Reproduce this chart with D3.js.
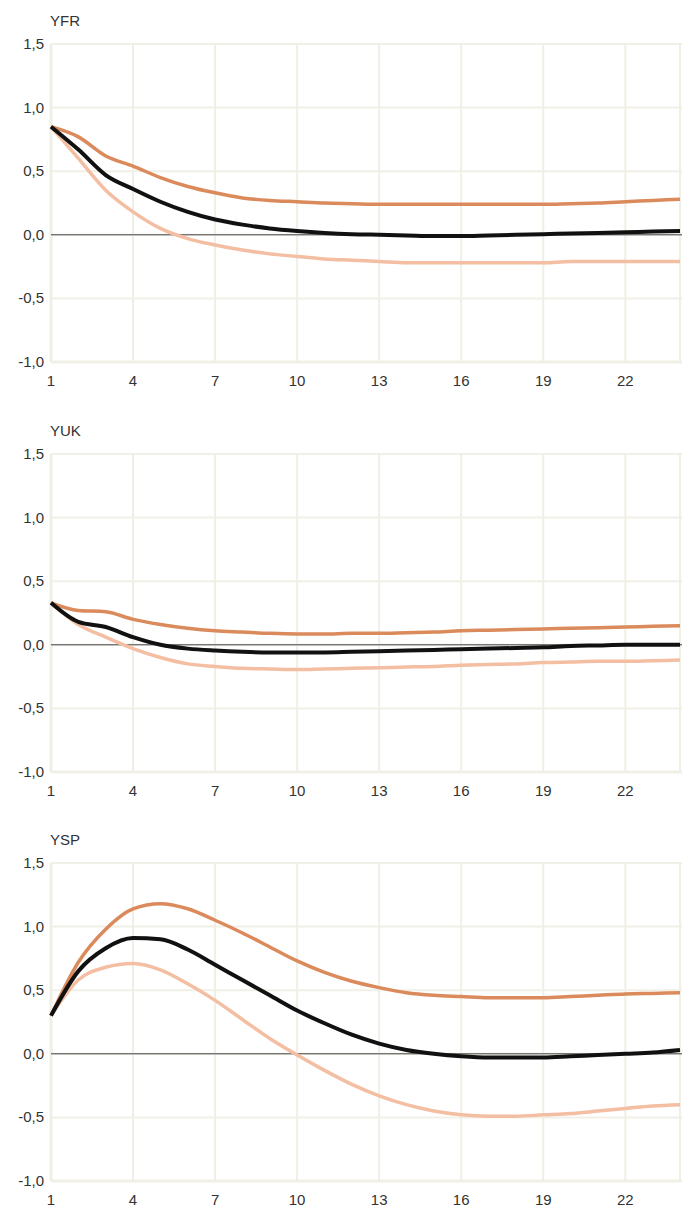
<!DOCTYPE html>
<html><head><meta charset="utf-8">
<script src="https://cdn.jsdelivr.net/npm/d3@7"></script>
<style>body{margin:0;background:#fff;}svg{display:block;font-family:"Liberation Sans",Arial,sans-serif;}</style>
</head><body>
<svg id="c" width="682" height="1208"></svg>
<script>
const periods = d3.range(1, 25);
const xTicks = [1,4,7,10,13,16,19,22];
const yTicks = [-1.0,-0.5,0.0,0.5,1.0,1.5];
const titles = ["YFR","YUK","YSP"];

const yfrMid = [0.85,0.67,0.47,0.36,0.26,0.18,0.12,0.08,0.05,0.03,0.015,0.005,0.0,-0.005,-0.01,-0.01,-0.005,0.0,0.005,0.01,0.015,0.02,0.025,0.03];
const yfrUp  = [0.85,0.77,0.62,0.54,0.45,0.38,0.33,0.29,0.27,0.26,0.25,0.245,0.24,0.24,0.24,0.24,0.24,0.24,0.24,0.245,0.25,0.26,0.27,0.28];
const yfrLo  = [0.85,0.6,0.35,0.18,0.05,-0.03,-0.08,-0.12,-0.15,-0.17,-0.19,-0.2,-0.21,-0.22,-0.22,-0.22,-0.22,-0.22,-0.22,-0.21,-0.21,-0.21,-0.21,-0.21];

const yukMid = [0.33,0.18,0.14,0.06,0.0,-0.03,-0.045,-0.055,-0.06,-0.06,-0.06,-0.055,-0.05,-0.045,-0.04,-0.035,-0.03,-0.025,-0.02,-0.01,-0.005,0.0,0.0,0.0];
const yukUp  = [0.33,0.27,0.26,0.2,0.16,0.13,0.11,0.1,0.09,0.085,0.085,0.09,0.09,0.095,0.1,0.11,0.115,0.12,0.125,0.13,0.135,0.14,0.145,0.15];
const yukLo  = [0.33,0.16,0.06,-0.03,-0.1,-0.15,-0.17,-0.185,-0.19,-0.195,-0.19,-0.185,-0.18,-0.175,-0.17,-0.16,-0.155,-0.15,-0.14,-0.135,-0.13,-0.13,-0.125,-0.12];

const yspMid = [0.3,0.65,0.83,0.91,0.9,0.82,0.7,0.58,0.46,0.34,0.24,0.15,0.08,0.03,0.0,-0.02,-0.03,-0.03,-0.03,-0.02,-0.01,0.0,0.01,0.03];
const yspUp  = [0.3,0.72,0.98,1.14,1.18,1.14,1.05,0.95,0.84,0.73,0.64,0.57,0.52,0.48,0.46,0.45,0.44,0.44,0.44,0.45,0.46,0.47,0.475,0.48];
const yspLo  = [0.3,0.58,0.68,0.71,0.66,0.55,0.42,0.27,0.12,-0.01,-0.13,-0.24,-0.33,-0.4,-0.45,-0.48,-0.49,-0.49,-0.48,-0.47,-0.45,-0.43,-0.41,-0.4];

const panels = [
  {title: titles[0], mid: yfrMid, up: yfrUp, lo: yfrLo},
  {title: titles[1], mid: yukMid, up: yukUp, lo: yukLo},
  {title: titles[2], mid: yspMid, up: yspUp, lo: yspLo}
];

const svg = d3.select("#c");
const tops = [44, 454, 863];
const plotH = 318;
const x = d3.scaleLinear().domain([1, 24]).range([51, 680]);
const fmt = d => d.toFixed(1).replace(".", ",");

panels.forEach((p, i) => {
  const top = tops[i];
  const y = d3.scaleLinear().domain([-1, 1.5]).range([top + plotH, top]);
  const g = svg.append("g");

  g.append("g").selectAll("line.h").data(yTicks).join("line")
    .attr("x1", x(1)).attr("x2", 682).attr("y1", d => y(d)).attr("y2", d => y(d))
    .attr("stroke", "#f1f0e6").attr("stroke-width", d => d === -1 ? 3 : 2);
  g.append("g").selectAll("line.v").data(xTicks.concat([24])).join("line")
    .attr("x1", d => x(d)).attr("x2", d => x(d)).attr("y1", y(1.5)).attr("y2", y(-1))
    .attr("stroke", "#f0efe5").attr("stroke-width", d => d === 1 ? 3 : 2);

  g.append("line").attr("x1", x(1)).attr("x2", 682).attr("y1", y(0)).attr("y2", y(0))
    .attr("stroke", "#444").attr("stroke-width", 1);

  g.append("g").selectAll("text").data(yTicks).join("text")
    .attr("x", 44).attr("y", d => y(d) + 5).attr("text-anchor", "end")
    .attr("font-size", 15).attr("fill", "#333").text(fmt);
  g.append("g").selectAll("text").data(xTicks).join("text")
    .attr("x", d => x(d)).attr("y", y(-1) + 24).attr("text-anchor", "middle")
    .attr("font-size", 15).attr("fill", "#333").text(d => d);
  g.append("text").attr("x", 50).attr("y", top - 18).attr("font-size", 15)
    .attr("fill", "#333").text(p.title);

  const line = vals => d3.line().x((d, k) => x(periods[k])).y(d => y(d)).curve(d3.curveMonotoneX)(vals);
  g.append("path").attr("d", line(p.lo)).attr("fill", "none").attr("stroke", "#f3bea2").attr("stroke-width", 3.5);
  g.append("path").attr("d", line(p.up)).attr("fill", "none").attr("stroke", "#db8a5c").attr("stroke-width", 3.5);
  g.append("path").attr("d", line(p.mid)).attr("fill", "none").attr("stroke", "#111").attr("stroke-width", 4);
});
</script>
</body></html>
